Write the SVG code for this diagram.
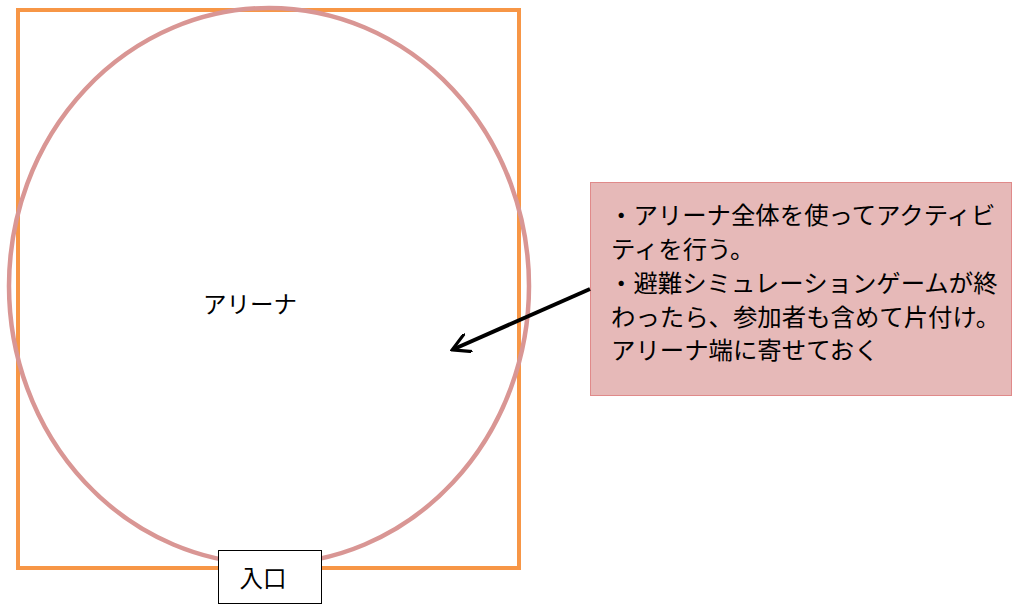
<svg xmlns="http://www.w3.org/2000/svg" width="1018" height="605" viewBox="0 0 1018 605">
<style>
text{font-family:"Noto Sans CJK JP","Liberation Serif",serif;fill:#000;}
.big{font-size:23.5px;}
.note{font-size:24.4px;}
</style>
<defs>
<marker id="arr" viewBox="0 0 10 10" refX="8" refY="5" markerWidth="5" markerHeight="5" orient="auto" markerUnits="strokeWidth">
<path d="M0,0 L9,5 L0,10" fill="none" stroke="#000" stroke-width="1.6"/>
</marker>
</defs>
<rect width="1018" height="605" fill="#fff"/>
<g id="arena-frame">
<rect x="18" y="10" width="501" height="558" fill="none" stroke="#F79646" stroke-width="4"/>
</g>
<g id="arena">
<ellipse cx="269" cy="286" rx="260" ry="278" fill="none" stroke="#D99694" stroke-width="4.5"/>
<text class="big" x="250" y="313" text-anchor="middle">アリーナ</text>
</g>
<g id="entrance">
<rect x="218.5" y="550.5" width="103" height="53" fill="#fff" stroke="#000" stroke-width="1"/>
<text class="big" x="263" y="587" text-anchor="middle">入口</text>
</g>
<g id="note">
<rect x="590.5" y="182.5" width="421" height="213" fill="#E6B9B8" stroke="#E08A8A" stroke-width="1"/>
<text class="note" x="609" y="224">・アリーナ全体を使ってアクティビ</text>
<text class="note" x="611" y="258">ティを行う。</text>
<text class="note" x="609" y="292">・避難シミュレーションゲームが終</text>
<text class="note" x="611" y="326">わったら、参加者も含めて片付け。</text>
<text class="note" x="611" y="359">アリーナ端に寄せておく</text>
</g>
<g id="connectors">
<line x1="590" y1="289" x2="454" y2="349" stroke="#000" stroke-width="4" marker-end="url(#arr)"/>
</g>
</svg>
